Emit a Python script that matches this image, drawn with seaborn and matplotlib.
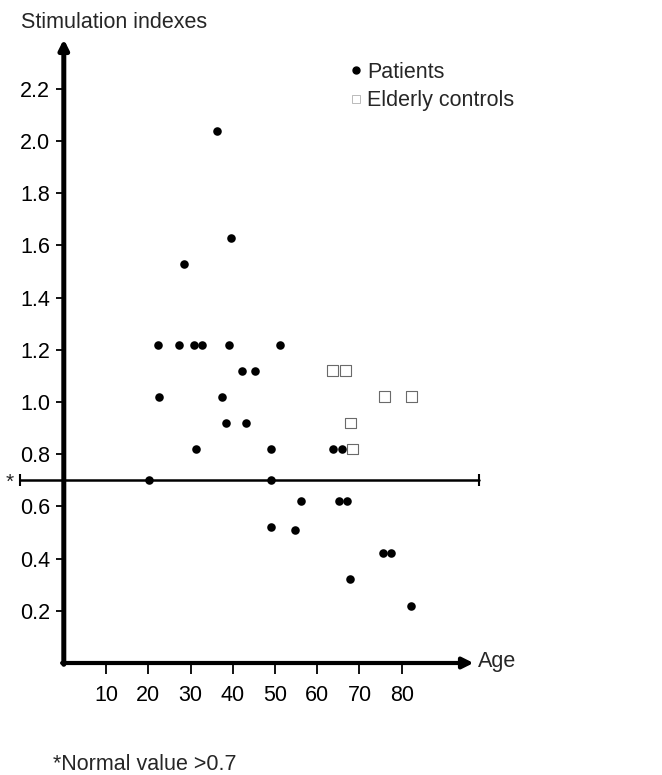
import matplotlib
matplotlib.use("Agg")
import matplotlib.pyplot as plt
from matplotlib.lines import Line2D
import seaborn as sns
import pandas as pd

# ---- data ----
patient_age = [22.2, 27.3, 30.9, 32.7, 39.0, 51.3, 28.4, 22.5, 37.4, 42.3,
               45.3, 38.3, 43.2, 31.4, 49.0, 63.8, 65.9, 20.2, 49.0, 56.2,
               65.1, 67.1, 49.1, 54.7, 75.5, 77.5, 67.7, 82.3, 36.3, 39.5]
patient_si = [1.22, 1.22, 1.22, 1.22, 1.22, 1.22, 1.53, 1.02, 1.02, 1.12,
              1.12, 0.92, 0.92, 0.82, 0.82, 0.82, 0.82, 0.70, 0.70, 0.62,
              0.62, 0.62, 0.52, 0.51, 0.42, 0.42, 0.32, 0.22, 2.04, 1.63]
control_age = [63.7, 66.7, 75.9, 82.4, 67.8, 68.3]
control_si = [1.12, 1.12, 1.02, 1.02, 0.92, 0.82]
x_ticks = [10, 20, 30, 40, 50, 60, 70, 80]
y_ticks = [0.2, 0.4, 0.6, 0.8, 1.0, 1.2, 1.4, 1.6, 1.8, 2.0, 2.2]
normal_value = 0.7

sns.set_style("white")
plt.rcParams["font.family"] = ["Liberation Sans", "DejaVu Sans"]
FS = 15.5

W, H = 662, 775
fig = plt.figure(figsize=(W / 100, H / 100), dpi=100)
x0px, y0px = 63.8, 663.0
xmax, ymax = 97, 2.39
pxx, pxy = 4.224, 261.0
ax = fig.add_axes([x0px / W, (H - y0px) / H, xmax * pxx / W, ymax * pxy / H])
ax.set_xlim(0, xmax)
ax.set_ylim(0, ymax)
for s in ax.spines.values():
    s.set_visible(False)

pdf = pd.DataFrame({"age": patient_age, "si": patient_si})
cdf = pd.DataFrame({"age": control_age, "si": control_si})
sns.scatterplot(data=pdf, x="age", y="si", ax=ax, color="black", s=38,
                marker="o", linewidth=0, clip_on=False, zorder=4)
sns.scatterplot(data=cdf, x="age", y="si", ax=ax, marker="s", s=60,
                facecolor="none", edgecolor="#6a6a6a", linewidth=0.8,
                clip_on=False, zorder=4)

# axes arrows
ax.annotate("", xy=(xmax, 0), xytext=(-0.4, 0), xycoords="data",
            arrowprops=dict(arrowstyle="-|>", lw=3, color="black",
                            mutation_scale=16, shrinkA=0, shrinkB=0),
            annotation_clip=False)
ax.annotate("", xy=(0, ymax), xytext=(0, -0.005), xycoords="data",
            arrowprops=dict(arrowstyle="-|>", lw=3.6, color="black",
                            mutation_scale=14, shrinkA=0, shrinkB=0),
            annotation_clip=False)

# normal value line
ax.plot([-10.4, 98.2], [normal_value, normal_value], color="black", lw=1.8,
        clip_on=False, zorder=3)
ax.plot([-10.4, 98.2], [normal_value, normal_value], color="black", lw=0,
        marker="|", markersize=9, markeredgewidth=1.5, clip_on=False, zorder=3)
fig.text(10 / W, 1 - 482 / H, "*", fontsize=15, ha="center", va="center")

ax.set_xticks(x_ticks)
ax.set_yticks(y_ticks)
ax.set_yticklabels([f"{v:.1f}" for v in y_ticks])
ax.tick_params(axis="x", direction="out", length=8, width=1.3, pad=8,
               labelsize=FS, bottom=True, colors="black")
ax.tick_params(axis="y", direction="out", length=6, width=1.3, pad=4,
               labelsize=FS, left=True, colors="black")
ax.set_xlabel("")
ax.set_ylabel("")
ax.grid(False)

fig.text(21 / W, 1 - 22 / H, "Stimulation indexes", fontsize=FS,
         ha="left", va="center")
fig.text(478 / W, 1 - 661 / H, "Age", fontsize=FS, ha="left", va="center")
fig.text(53 / W, 1 - 765 / H, "*Normal value >0.7", fontsize=FS,
         ha="left", va="center")

handles = [Line2D([], [], marker="o", color="black", linestyle="none",
                  markersize=5),
           Line2D([], [], marker="s", markerfacecolor="none",
                  markeredgecolor="#b0b0b0", markeredgewidth=0.6,
                  linestyle="none", markersize=6)]
ax.legend(handles, ["Patients", "Elderly controls"], loc="upper left",
          bbox_to_anchor=(337 / W, 1 - 53 / H), bbox_transform=fig.transFigure,
          frameon=False, handletextpad=0.0, handlelength=1.0,
          fontsize=FS, labelspacing=0.35, borderaxespad=0)

fig.savefig("out.png", dpi=100, facecolor="white")
